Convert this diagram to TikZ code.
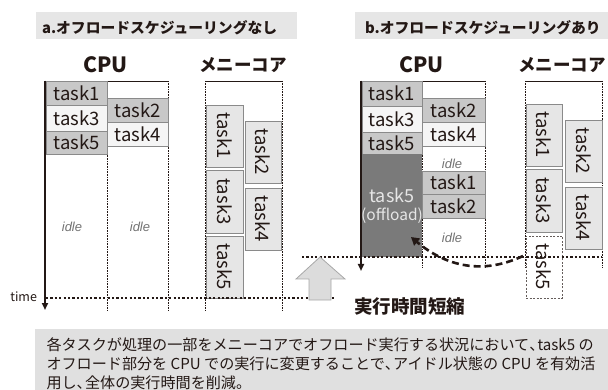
\documentclass[tikz,border=0pt]{standalone}
\usepackage{fontspec}
\usepackage{graphicx}
\setmainfont{Noto Sans CJK JP}
\newfontfamily\idlefont{Liberation Sans}
\usetikzlibrary{arrows.meta}
\definecolor{hdr}{HTML}{E6E6E6}
\definecolor{capbg}{HTML}{E0E0E0}
\definecolor{cellgray}{HTML}{C8C8C8}
\definecolor{celllight}{HTML}{F5F5F5}
\definecolor{mcfill}{HTML}{E6E6E6}
\definecolor{cellborder}{HTML}{8A8A8A}
\definecolor{offl}{HTML}{7A7A7A}
\definecolor{ink}{HTML}{231815}
\definecolor{arrfill}{HTML}{DCDCDC}
\definecolor{arrdraw}{HTML}{A8A8A8}
\newcommand\myfs[1]{\fontsize{#1}{#1}\selectfont}
\newcommand\hcomma{\makebox[0.55em][l]{、}}
\begin{document}
\begin{tikzpicture}[x=1pt,y=-1pt,
  cell/.style={draw=cellborder, line width=0.8pt, inner sep=0pt, outer sep=0pt, font=\myfs{18.5}, text=ink},
  darkcell/.style={cell, fill=cellgray},
  lightcell/.style={cell, fill=celllight},
  mccell/.style={cell, fill=mcfill},
  mcdash/.style={cell, fill=white, draw=ink!70, dashed, dash pattern=on 2pt off 1.5pt, line width=0.6pt},
  offcell/.style={inner sep=0pt, outer sep=0pt, fill=offl, text=white!90!black, align=center},
  idle/.style={font=\idlefont\itshape\myfs{13}, text=black!55},
  hdrtext/.style={font=\bfseries\myfs{14.8}, text=ink, anchor=west},
  title/.style={font=\bfseries\myfs{17.5}, text=ink},
  frame/.style={draw=ink, line width=0.8pt},
  colsep/.style={draw=ink, line width=0.6pt, dash pattern=on 0.8pt off 0.8pt},
  timeline/.style={draw=ink, line width=2.2pt, dash pattern=on 2.2pt off 2.2pt},
  axis/.style={draw=ink, line width=2.2pt, -{Triangle[length=7pt,width=6pt]}},
  captext/.style={font=\myfs{15.1}, text=ink, anchor=base west}]
\useasboundingbox (0,0) rectangle (608,390);

% headers
\fill[hdr] (36,12) rectangle (297,39.5);
\fill[hdr] (355,12) rectangle (608,39.5);
\node[hdrtext] (ha) at (38.5,27.5) {a.オフロードスケジューリングなし};
\node[hdrtext] (hb) at (361.5,27.5) {b.オフロードスケジューリングあり};

% titles
\node[title, font=\bfseries\myfs{21}] (tca) at (105.5,65) {CPU};
\node[title] (tma) at (243,65) {メニーコア};
\node[title, font=\bfseries\myfs{21}] (tcb) at (421.5,65) {CPU};
\node[title] (tmb) at (562,65) {メニーコア};

% ---------- panel a ----------
\draw[colsep] (107,81) -- (107,310);
\draw[colsep] (168,81) -- (168,310);
\draw[colsep] (205,81) -- (205,310);
\draw[colsep] (282,81) -- (282,310);
\draw[frame] (45,81) -- (168,81);
\draw[frame] (205,81) -- (282,81);

\node[darkcell, minimum width=61pt, minimum height=24pt] (a1) at (76.5,93) {task1};
\node[lightcell, minimum width=61pt, minimum height=26pt] (a3) at (76.5,118) {task3};
\node[darkcell, minimum width=61pt, minimum height=23pt] (a5) at (76.5,142.5) {task5};
\node[darkcell, minimum width=61pt, minimum height=24pt] (a2) at (137.5,110) {task2};
\node[lightcell, minimum width=61pt, minimum height=24pt] (a4) at (137.5,134) {task4};
\node[idle] (ia1) at (72,227) {idle};
\node[idle] (ia2) at (140,227) {idle};

\node[mccell, minimum width=37pt, minimum height=62pt] (am1) at (224.5,136) {\rotatebox{-90}{task1}};
\node[mccell, minimum width=37pt, minimum height=63pt] (am3) at (224.5,201.5) {\rotatebox{-90}{task3}};
\node[mccell, minimum width=37pt, minimum height=62pt] (am5) at (224.5,267) {\rotatebox{-90}{task5}};
\node[mccell, minimum width=36pt, minimum height=62pt] (am2) at (263,152) {\rotatebox{-90}{task2}};
\node[mccell, minimum width=36pt, minimum height=62pt] (am4) at (263,219) {\rotatebox{-90}{task4}};

% ---------- panel b ----------
\draw[colsep] (422,81) -- (422,267);
\draw[colsep] (485,81) -- (485,267);
\draw[colsep] (525,81) -- (525,268);
\draw[colsep] (602,81) -- (602,268);
\draw[frame] (361,81) -- (485,81);
\draw[frame] (525,81) -- (602,81);

\node[darkcell, minimum width=60pt, minimum height=25pt] (b1) at (392,93.5) {task1};
\node[lightcell, minimum width=60pt, minimum height=26pt] (b3) at (392,119) {task3};
\node[darkcell, minimum width=60pt, minimum height=22pt] (b5) at (392,143) {task5};
\node[offcell, minimum width=60pt, minimum height=103pt] (boff) at (392,205.5) {};
\node[text=white!90!black, font=\myfs{18}] (boff1) at (392,195) {task5};
\node[text=white!90!black, font=\myfs{15.5}] (boff2) at (392,215.5) {(offload)};
\node[darkcell, minimum width=63pt, minimum height=24pt] (b2) at (453.5,110) {task2};
\node[lightcell, minimum width=63pt, minimum height=24pt] (b4) at (453.5,134) {task4};
\node[darkcell, minimum width=63pt, minimum height=23pt] (bt1) at (453.5,182.5) {task1};
\node[darkcell, minimum width=63pt, minimum height=24pt] (bt2) at (453.5,206) {task2};
\node[idle] (ib1) at (452,164) {idle};
\node[idle] (ib2) at (452,238) {idle};

\node[mccell, minimum width=36pt, minimum height=62pt] (bm1) at (544,135) {\rotatebox{-90}{task1}};
\node[mccell, minimum width=36pt, minimum height=63pt] (bm3) at (544,200.5) {\rotatebox{-90}{task3}};
\node[mcdash, minimum width=36pt, minimum height=62pt] (bm5) at (544,267) {\rotatebox{-90}{task5}};
\node[mccell, minimum width=37pt, minimum height=62pt] (bm2) at (583.5,151) {\rotatebox{-90}{task2}};
\node[mccell, minimum width=37pt, minimum height=62pt] (bm4) at (583.5,218) {\rotatebox{-90}{task4}};

% time lines
\draw[timeline] (46,298) -- (335,298);
\draw[timeline] (302,257) -- (602,257);

% axes
\draw[axis] (45,80.6) -- (45,310);
\draw[axis] (361,80.6) -- (361,271);
\node[font=\myfs{12.5}, text=ink, anchor=east] (time) at (40.5,297) {time};

% block arrow
\draw[fill=arrfill, draw=arrdraw, line width=0.8pt] (320,257) -- (345,279) -- (331,279) -- (331,300) -- (309,300) -- (309,279) -- (296,279) -- cycle;
\node[font=\bfseries\myfs{18.5}, text=ink, anchor=west] (short) at (350.5,306) {実行時間短縮};

% dashed curved arrow
\coordinate (tip) at (411,237);
\draw[draw=ink, line width=2.6pt, dash pattern=on 7pt off 4pt, -{Triangle[length=8pt,width=9pt]}]
  ([xshift=-3pt,yshift=11pt]bm5.west) .. controls (478,277) and (442,263) .. (tip);

% caption
\fill[capbg] (35,329) rectangle (608,390);
\node[captext] (cap1) at (43,350.5) {各タスクが処理の一部をメニーコアでオフロード実行する状況において\hcomma task5 の};
\node[captext] (cap2) at (43,369.5) {オフロード部分を CPU での実行に変更することで\hcomma アイドル状態の CPU を有効活};
\node[captext] (cap3) at (43,388.5) {用し\hcomma 全体の実行時間を削減。};
\end{tikzpicture}
\end{document}
